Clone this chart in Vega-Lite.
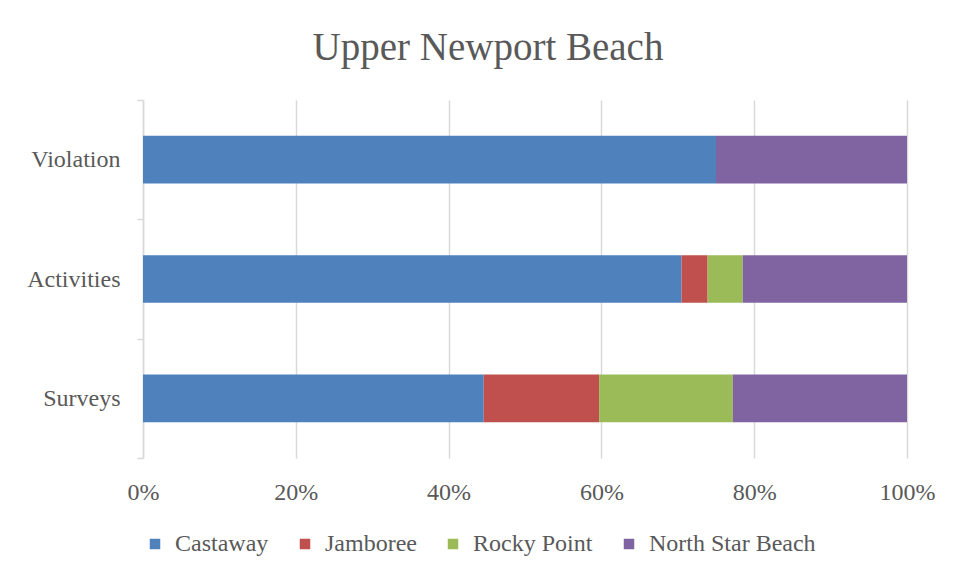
{
  "$schema": "https://vega.github.io/schema/vega-lite/v6.json",
  "width": 764,
  "height": 358,
  "autosize": {"type": "none"},
  "padding": {"left": 143, "top": 100, "right": 50, "bottom": 119},
  "background": "white",
  "title": {
    "text": "Upper Newport Beach",
    "font": "Liberation Serif",
    "fontSize": 39,
    "fontWeight": "normal",
    "color": "#595959",
    "anchor": "middle",
    "baseline": "alphabetic",
    "offset": -11,
    "dx": -37
  },
  "data": {
    "values": [
      {"category": "Violation", "series": "Castaway", "order": 1, "value": 75.0},
      {"category": "Violation", "series": "Jamboree", "order": 2, "value": 0},
      {"category": "Violation", "series": "Rocky Point", "order": 3, "value": 0},
      {"category": "Violation", "series": "North Star Beach", "order": 4, "value": 25.0},
      {"category": "Activities", "series": "Castaway", "order": 1, "value": 70.5},
      {"category": "Activities", "series": "Jamboree", "order": 2, "value": 3.4},
      {"category": "Activities", "series": "Rocky Point", "order": 3, "value": 4.6},
      {"category": "Activities", "series": "North Star Beach", "order": 4, "value": 21.5},
      {"category": "Surveys", "series": "Castaway", "order": 1, "value": 44.6},
      {"category": "Surveys", "series": "Jamboree", "order": 2, "value": 15.1},
      {"category": "Surveys", "series": "Rocky Point", "order": 3, "value": 17.5},
      {"category": "Surveys", "series": "North Star Beach", "order": 4, "value": 22.8}
    ]
  },
  "mark": {"type": "bar", "height": {"band": 0.4}},
  "encoding": {
    "y": {
      "field": "category",
      "type": "nominal",
      "sort": ["Violation", "Activities", "Surveys"],
      "scale": {"paddingInner": 0, "paddingOuter": 0},
      "axis": {
        "title": null,
        "domain": true,
        "domainColor": "#D9D9D9",
        "domainWidth": 1.5,
        "ticks": true,
        "tickBand": "extent",
        "tickColor": "#D9D9D9",
        "tickWidth": 1.5,
        "tickSize": 6,
        "labelPadding": 17,
        "labelFont": "Liberation Serif",
        "labelFontSize": 24,
        "labelColor": "#595959",
        "grid": false
      }
    },
    "x": {
      "field": "value",
      "type": "quantitative",
      "stack": "normalize",
      "scale": {"domain": [0, 1]},
      "axis": {
        "title": null,
        "format": ".0%",
        "values": [0, 0.2, 0.4, 0.6, 0.8, 1],
        "domain": false,
        "ticks": false,
        "grid": true,
        "gridColor": "#D9D9D9",
        "gridWidth": 1.5,
        "labelPadding": 22,
        "labelFont": "Liberation Serif",
        "labelFontSize": 24,
        "labelColor": "#595959",
        "labelFlush": false
      }
    },
    "color": {
      "field": "series",
      "type": "nominal",
      "sort": ["Castaway", "Jamboree", "Rocky Point", "North Star Beach"],
      "scale": {
        "domain": ["Castaway", "Jamboree", "Rocky Point", "North Star Beach"],
        "range": ["#4F81BD", "#C0504D", "#9BBB59", "#8064A2"]
      },
      "legend": {
        "title": null,
        "orient": "bottom",
        "direction": "horizontal",
        "symbolType": "square",
        "symbolSize": 110,
        "symbolStrokeWidth": 0,
        "labelFont": "Liberation Serif",
        "labelFontSize": 24,
        "labelColor": "#595959",
        "labelLimit": 400,
        "labelOffset": 8,
        "columnPadding": 24,
        "offset": 28
      }
    },
    "order": {"field": "order", "type": "quantitative"}
  },
  "config": {
    "view": {"stroke": null}
  }
}
